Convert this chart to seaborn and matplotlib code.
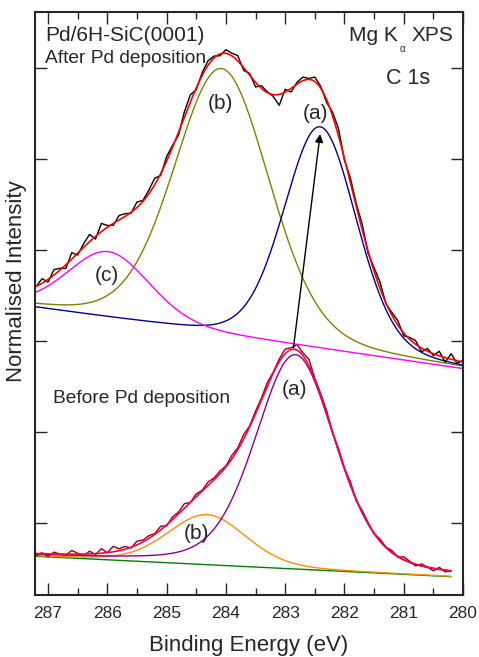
import numpy as np
import pandas as pd
import matplotlib
matplotlib.use("Agg")
import matplotlib.pyplot as plt
import seaborn as sns
from matplotlib.ticker import MultipleLocator

sns.set_style("ticks")
plt.rcParams["font.family"] = ["Liberation Sans", "DejaVu Sans"]

# ---- fit parameters (centre eV, height, FWHM eV, Lorentzian fraction) ----
# After Pd deposition
up_centres = [282.41, 284.07, 285.98]          # (a), (b), (c)
up_heights = [2.435, 2.92, 0.73]
up_fwhm = [1.45, 1.90, 1.65]
up_mix = [0.2, 0.2, 0.2]
up_base = [2.69, 3.36]                         # linear background at 280.0 / 287.2 eV

# Before Pd deposition
lo_centres = [282.83, 284.32]                  # (a), (b)
lo_heights = [2.355, 0.55]
lo_fwhm = [1.60, 1.55]
lo_mix = [0.3, 0.2]
lo_base = [0.40, 0.63]

# measured spectra: residuals of the data around the fit, 0.1 eV steps from 287.2 eV
up_res = [
    0.00, 0.05, -0.03, 0.06, 0.02, -0.04, 0.07, -0.02, 0.04, 0.08,
    -0.03, 0.09, 0.02, -0.02, 0.05, 0.03, -0.01, 0.06, 0.01, 0.04,
    0.07, -0.02, 0.05, 0.02, -0.03, 0.06, 0.08, -0.02, 0.03, 0.05,
    0.02, -0.02, 0.04, 0.03, 0.06, -0.03, 0.02, -0.05, 0.03, 0.01,
    -0.02, -0.12, 0.03, -0.04, 0.02, 0.04, 0.01, 0.05, 0.02, -0.03,
    0.04, 0.08, -0.02, 0.05, 0.03, 0.06, -0.02, 0.04, 0.07, -0.01,
    0.03, 0.05, -0.03, 0.02, 0.04, -0.04, 0.03, -0.02, 0.05, -0.05,
    0.06, -0.03, 0.02,
]
lo_res = [
    -0.02, 0.01, -0.03, 0.02, 0.00, -0.01, 0.04, 0.01, -0.02, 0.03,
    -0.01, 0.05, 0.00, 0.06, 0.02, 0.03, -0.01, 0.04, 0.02, 0.03,
    0.01, 0.04, -0.01, 0.03, 0.02, 0.05, 0.00, 0.03, 0.01, 0.04,
    0.02, 0.03, 0.01, 0.04, 0.02, 0.05, 0.01, 0.03, 0.02, 0.04,
    0.01, 0.03, 0.05, 0.02, 0.06, 0.03, 0.07, 0.01, 0.02, 0.03,
    -0.01, 0.02, 0.00, 0.03, -0.02, 0.02, 0.01, -0.01, 0.02, 0.00,
    0.02, -0.01, 0.03, 0.01, -0.02, 0.02, 0.00, -0.03, 0.02, -0.02,
    0.00,
]

x_ticks = [287, 286, 285, 284, 283, 282, 281, 280]


def pvoigt(e, c, h, w, m):
    g = np.exp(-4 * np.log(2) * ((e - c) / w) ** 2)
    l = 1.0 / (1.0 + 4 * ((e - c) / w) ** 2)
    return h * ((1 - m) * g + m * l)


def background(e, b):
    return b[0] + (e - 280.0) * (b[1] - b[0]) / (287.2 - 280.0)


e_fine_up = np.linspace(287.2, 280.0, 600)
e_fine_lo = np.linspace(287.2, 280.2, 600)
e_up = np.round(287.2 - 0.1 * np.arange(len(up_res)), 2)
e_lo = np.round(287.2 - 0.1 * np.arange(len(lo_res)), 2)


def model(e, cs, hs, ws, ms, b):
    comps = [background(e, b) + pvoigt(e, c, h, w, m) for c, h, w, m in zip(cs, hs, ws, ms)]
    total = background(e, b) + sum(pvoigt(e, c, h, w, m) for c, h, w, m in zip(cs, hs, ws, ms))
    return comps, total


up_comps, up_total = model(e_fine_up, up_centres, up_heights, up_fwhm, up_mix, up_base)
lo_comps, lo_total = model(e_fine_lo, lo_centres, lo_heights, lo_fwhm, lo_mix, lo_base)
_, up_fit_pts = model(e_up, up_centres, up_heights, up_fwhm, up_mix, up_base)
_, lo_fit_pts = model(e_lo, lo_centres, lo_heights, lo_fwhm, lo_mix, lo_base)
up_data = up_fit_pts + np.array(up_res)
lo_data = lo_fit_pts + np.array(lo_res)

fig = plt.figure(figsize=(4.79, 6.57), dpi=100)
ax = fig.add_axes([0.0731, 0.0944, 0.8935, 0.8873])

# lower spectrum
sns.lineplot(x=e_fine_lo, y=background(e_fine_lo, lo_base), ax=ax, color="#008000", lw=1.0, sort=False)
sns.lineplot(x=e_fine_lo, y=lo_comps[1], ax=ax, color="#FF8C00", lw=1.0, sort=False)
sns.lineplot(x=e_fine_lo, y=lo_comps[0], ax=ax, color="#8B008B", lw=1.0, sort=False)
sns.lineplot(x=e_lo, y=lo_data, ax=ax, color="#9B0000", lw=1.0, sort=False)
sns.lineplot(x=e_fine_lo, y=lo_total, ax=ax, color="#FF0050", lw=1.2, sort=False)

# upper spectrum
sns.lineplot(x=e_fine_up, y=up_comps[1], ax=ax, color="#808000", lw=1.0, sort=False)
sns.lineplot(x=e_fine_up, y=up_comps[0], ax=ax, color="#00008B", lw=1.0, sort=False)
sns.lineplot(x=e_fine_up, y=up_comps[2], ax=ax, color="#FF00FF", lw=1.0, sort=False)
sns.lineplot(x=e_up, y=up_data, ax=ax, color="black", lw=1.0, sort=False)
sns.lineplot(x=e_fine_up, y=up_total, ax=ax, color="#FF0000", lw=1.2, sort=False)

# shift of peak (a)
lo_peak = background(lo_centres[0], lo_base) + lo_heights[0] + pvoigt(lo_centres[0], lo_centres[1], lo_heights[1], lo_fwhm[1], lo_mix[1])
up_peak = background(up_centres[0], up_base) + up_heights[0]
ax.annotate("", xy=(up_centres[0], up_peak - 0.08), xytext=(lo_centres[0] + 0.03, lo_peak + 0.02),
            arrowprops=dict(arrowstyle="-|>", color="black", lw=1.0, mutation_scale=12, shrinkA=0, shrinkB=0))

ax.set_xlim(287.22, 280.0)
ax.set_ylim(0.205, 6.61)
ax.xaxis.set_minor_locator(MultipleLocator(0.5))
ax.set_xticks(x_ticks)
ax.set_xticklabels([str(t) for t in x_ticks])
ax.set_yticks([1, 2, 3, 4, 5, 6])
ax.set_yticklabels([])
ax.tick_params(which="major", direction="in", length=8.5, width=1.0, top=True, right=True, labelsize=12.5, pad=8)
ax.tick_params(which="minor", direction="in", length=5, width=1.0, top=True, right=False)
ax.tick_params(axis="y", which="minor", left=False, right=False)
for s in ax.spines.values():
    s.set_linewidth(1.5)

ax.set_xlabel("Binding Energy (eV)", fontsize=16)
ax.set_ylabel("Normalised Intensity", fontsize=16)
ax.xaxis.set_label_coords(0.5, -0.068)
ax.yaxis.set_label_coords(-0.018, 0.538)

ax.text(287.05, 6.35, "Pd/6H-SiC(0001)", fontsize=15, ha="left", va="center")
ax.text(287.05, 6.1, "After Pd deposition", fontsize=13.8, ha="left", va="center")
ax.text(281.92, 6.35, "Mg K", fontsize=15, ha="left", va="center")
ax.text(281.02, 6.2, "α", fontsize=7, ha="center", va="center")
ax.text(280.17, 6.35, "XPS", fontsize=15, ha="right", va="center")
ax.text(280.56, 5.88, "C 1s", fontsize=15.5, ha="right", va="center")
ax.text(286.92, 2.36, "Before Pd deposition", fontsize=13.8, ha="left", va="center")

ax.text(284.1, 5.6, "(b)", fontsize=15, ha="center", va="center")
ax.text(282.48, 5.5, "(a)", fontsize=15, ha="center", va="center")
ax.text(286.0, 3.72, "(c)", fontsize=15, ha="center", va="center")
ax.text(282.85, 2.46, "(a)", fontsize=15, ha="center", va="center")
ax.text(284.5, 0.88, "(b)", fontsize=15, ha="center", va="center")

fig.savefig("out.png", dpi=100)
